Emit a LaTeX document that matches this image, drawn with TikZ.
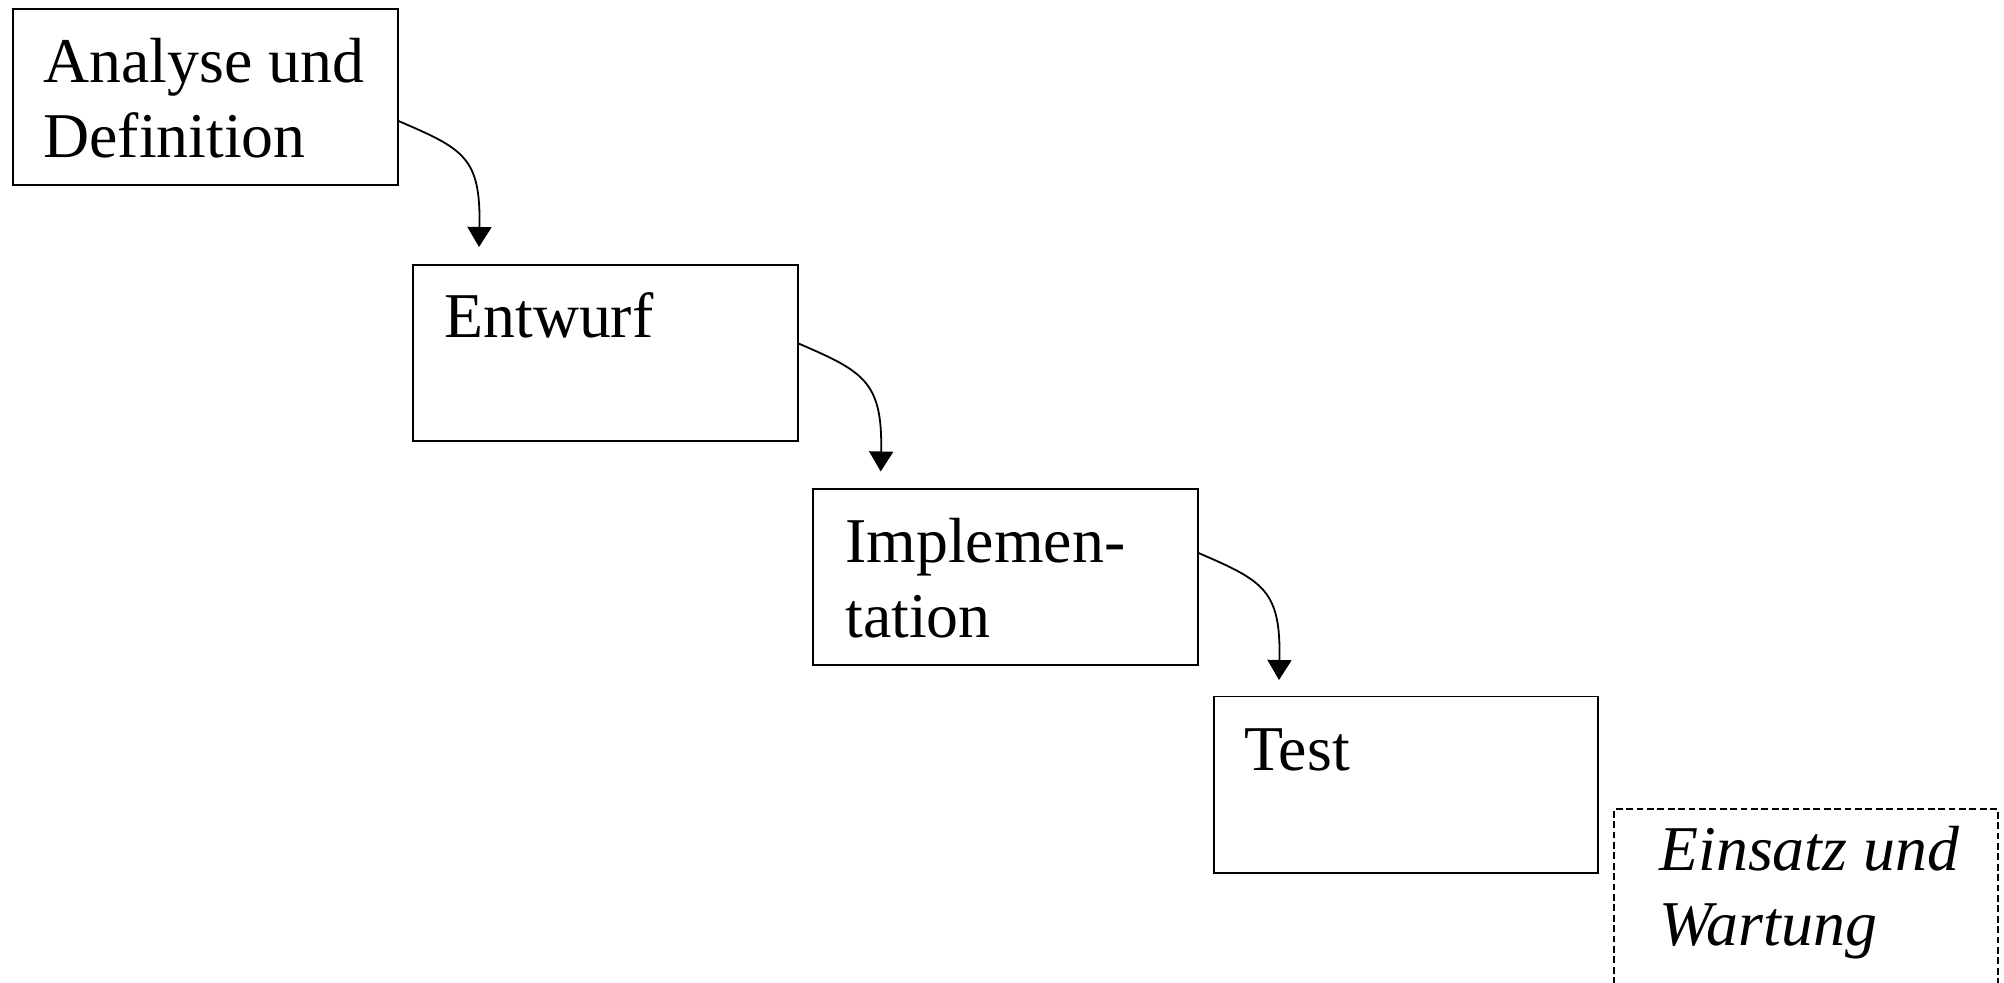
\documentclass[tikz,border=0pt]{standalone}
\usepackage{fontspec}
\setmainfont{Liberation Serif}
\usetikzlibrary{arrows.meta,calc}
\begin{document}
\begin{tikzpicture}[x=0.5pt,y=-0.5pt,
  phase/.style={draw,line width=0.9pt,rectangle,anchor=north west,inner sep=0pt,
    minimum width=192.2pt,minimum height=88pt},
  lastphase/.style={phase,dashed,line width=1pt,dash pattern=on 3.4pt off 1.8pt},
  label/.style={anchor=base west,align=left,inner sep=0pt,
    font=\fontsize{31.9}{37.5}\selectfont},
  flow/.style={line width=0.9pt,-{Triangle[width=12pt,length=10pt]}}]
\clip (0,0) rectangle (2004,983);
\fill[white] (0,0) rectangle (2004,983);
% boxes
\node[phase] (b1) at (12.3,8.3) {};
\node[phase] (b2) at (412.3,264) {};
\node[phase] (b3) at (812.3,488.3) {};
\node[phase] (b4) at (1212.7,695.7) {};
\node[lastphase] (b5) at (1612.7,808.3) {};
% texts (base = baseline of last line)
\node[label] (t1) at (43,158) {Analyse und\\Definition};
\node[label] (t2) at (444,338) {Entwurf};
\node[label] (t3) at (845,637.7) {Implemen-\\tation};
\node[label] (t4) at (1244,770.7) {Test};
\node[label,font=\fontsize{31.9}{37.5}\selectfont\itshape] (t5) at (1659,945) {Einsatz und\\Wartung};
% arrows
\coordinate (s1) at ($(b1.north east)+(0,112.7)$);
\coordinate (e1) at ($(b2.north west)+(66.7,-17)$);
\coordinate (s2) at ($(b2.north east)+(0,79.5)$);
\coordinate (e2) at ($(b3.north west)+(68.4,-16.8)$);
\coordinate (s3) at ($(b3.north east)+(0,64.7)$);
\coordinate (e3) at ($(b4.north west)+(66.3,-15.7)$);
\draw[flow] (s1) .. controls +(65,28) and +(2,-90) .. (e1);
\draw[flow] (s2) .. controls +(65,28) and +(2,-90) .. (e2);
\draw[flow] (s3) .. controls +(65,28) and +(2,-90) .. (e3);
\end{tikzpicture}
\end{document}
